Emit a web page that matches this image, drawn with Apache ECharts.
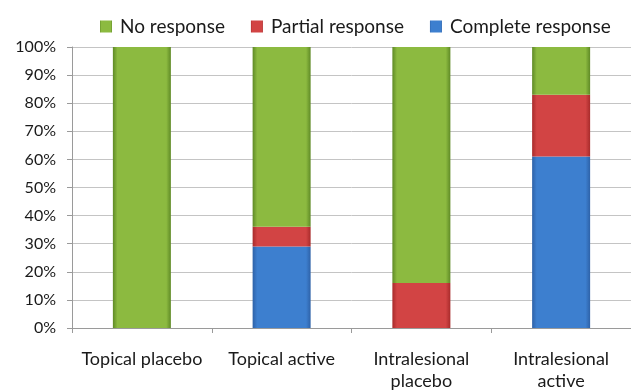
<!DOCTYPE html>
<html>
<head>
<meta charset="utf-8">
<script src="https://cdn.jsdelivr.net/npm/echarts@6/dist/echarts.min.js"></script>
<style>
  html, body { margin: 0; padding: 0; background: #fff; }
  #main { width: 631px; height: 392px; }
</style>
</head>
<body>
<div id="main"></div>
<script>
var categories = ['Topical placebo', 'Topical active', 'Intralesional\nplacebo', 'Intralesional\nactive'];
var completeResponse = [0, 29, 0, 61];
var partialResponse = [0, 7, 16, 22];
var noResponse = [100, 64, 84, 17];
var yTicks = [0, 100, 10]; // min, max, step (percent)

// bevel-ish fill: darker edges, lighter middle
function bevel(edge, mid) {
    return new echarts.graphic.LinearGradient(0, 0, 1, 0, [
        { offset: 0, color: edge },
        { offset: 0.08, color: mid },
        { offset: 0.92, color: mid },
        { offset: 1, color: edge }
    ]);
}

var chart = echarts.init(document.getElementById('main'));
var font = 'Lato, "Open Sans", sans-serif';

var option = {
    animation: false,
    backgroundColor: '#fff',
    legend: {
        data: ['No response', 'Partial response', 'Complete response'],
        left: 95,
        top: 12,
        icon: 'rect',
        itemWidth: 12,
        itemHeight: 12,
        itemGap: 26,
        textStyle: { fontFamily: font, fontSize: 19, color: '#1a1a1a', padding: [0, 0, 0, 3] }
    },
    grid: { left: 72, top: 47, width: 569, height: 286 },
    xAxis: {
        type: 'category',
        data: categories,
        axisLine: { lineStyle: { color: '#9a9a9a' } },
        axisTick: { show: true, length: 5, lineStyle: { color: '#9a9a9a' } },
        axisLabel: { fontFamily: font, fontSize: 18, color: '#1a1a1a', margin: 20, lineHeight: 22, interval: 0 }
    },
    yAxis: {
        type: 'value',
        min: yTicks[0],
        max: yTicks[1],
        interval: yTicks[2],
        axisLine: { show: true, lineStyle: { color: '#9a9a9a' } },
        axisTick: { show: true, length: 5, lineStyle: { color: '#9a9a9a' } },
        axisLabel: { fontFamily: font, fontSize: 16, color: '#1a1a1a', margin: 16, formatter: '{value}%' },
        splitLine: { lineStyle: { color: '#c4c4c4' } }
    },
    series: [{
        name: 'Complete response',
        type: 'bar',
        stack: 'r',
        barWidth: 58,
        data: completeResponse,
        itemStyle: { color: bevel('#2e62a8', '#3d7fcf') }
    }, {
        name: 'Partial response',
        type: 'bar',
        stack: 'r',
        barWidth: 58,
        data: partialResponse,
        itemStyle: { color: bevel('#a82b2b', '#d24444') }
    }, {
        name: 'No response',
        type: 'bar',
        stack: 'r',
        barWidth: 58,
        data: noResponse,
        itemStyle: { color: bevel('#5f8a26', '#8cba40') }
    }]
};
chart.setOption(option);
</script>
</body>
</html>
